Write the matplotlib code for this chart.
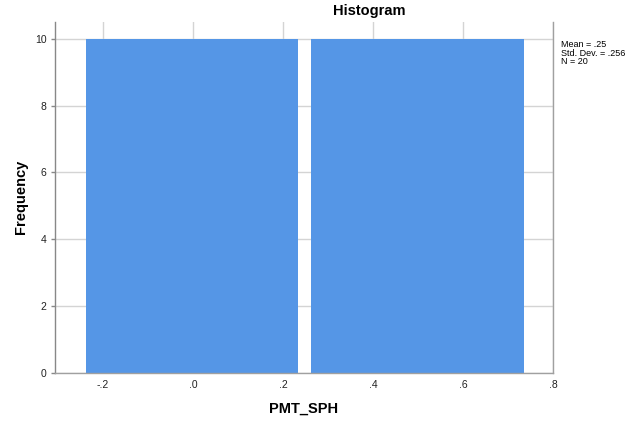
import matplotlib.pyplot as plt

plt.rcParams['font.family'] = ['Liberation Sans', 'DejaVu Sans']

# --------------Data--------------------------------------------
bin_centers = [-0.002, 0.499]
frequencies = [10, 10]
x_ticks = [-0.2, 0.0, 0.2, 0.4, 0.6, 0.8]
x_tick_labels = ['-.2', '.0', '.2', '.4', '.6', '.8']
y_ticks = [0, 2, 4, 6, 8, 10]
stats_text = "Mean = .25\nStd. Dev. = .256\nN = 20"

# --------------Figure------------------------------------------
W, H = 635, 421
fig = plt.figure(figsize=(W / 100, H / 100), dpi=100)
ax = fig.add_axes([55 / W, 1 - 373 / H, (553 - 55) / W, (373 - 22) / H])

ax.set_axisbelow(True)
ax.grid(True, color='#d4d4d4', linewidth=1)
ax.bar(bin_centers, frequencies, width=0.472, color='#5596e6', zorder=2)

ax.set_xlim(-0.307, 0.8)
ax.set_ylim(0, 10.5)
ax.set_xticks(x_ticks)
ax.set_xticklabels(x_tick_labels)
ax.set_yticks(y_ticks)
ax.tick_params(axis='x', length=0, pad=5, labelsize=7.5, colors='#222222')
ax.tick_params(axis='y', length=3, width=1, color='#888888', pad=3,
               labelsize=7.5, labelcolor='#222222')

ax.spines['top'].set_visible(False)
for s in ['left', 'right', 'bottom']:
    ax.spines[s].set_color('#a0a0a0')
    ax.spines[s].set_linewidth(1)
ax.spines['left'].set_color('#888888')

fig.text(304 / W, 1 - 409 / H, 'PMT_SPH', fontsize=10.5, fontweight='bold',
         ha='center', va='center')
fig.text(21 / W, 1 - 197 / H, 'Frequency', fontsize=10.5, fontweight='bold',
         ha='center', va='center', rotation=90)
fig.text(369 / W, 1 - 11 / H, 'Histogram', fontsize=10.5, fontweight='bold',
         ha='center', va='center')
fig.text(561 / W, 1 - 40 / H, stats_text, fontsize=6.5, ha='left', va='top',
         linespacing=0.95)

fig.savefig('out.png', dpi=100)
